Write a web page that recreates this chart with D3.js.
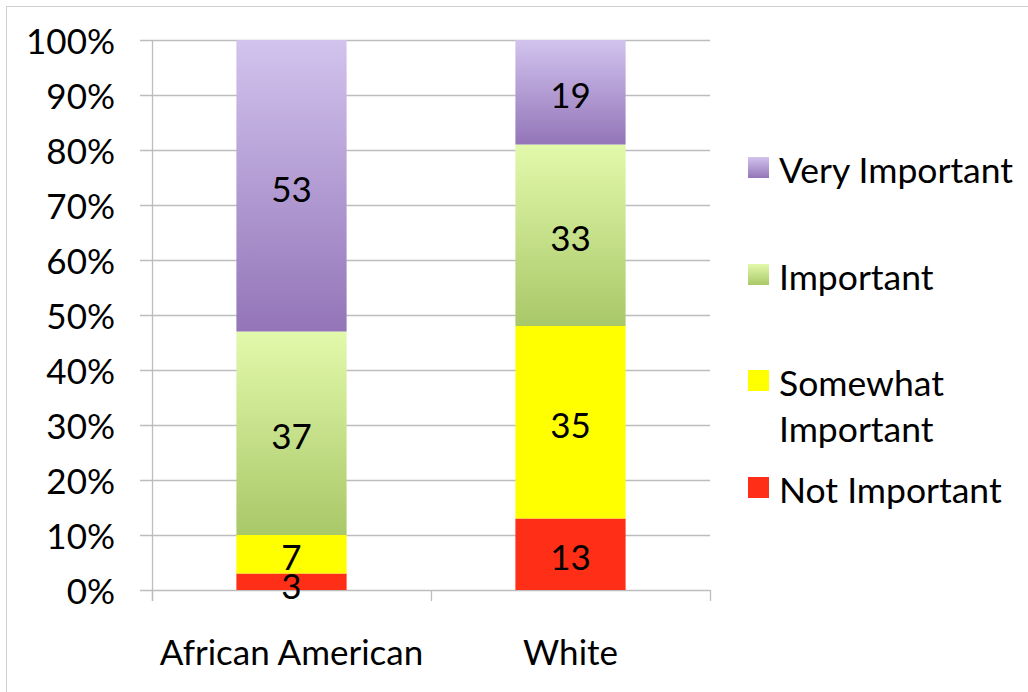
<!DOCTYPE html>
<html>

<head>
  <meta charset="utf-8">
  <script src="https://d3js.org/d3.v7.min.js"></script>
  <style>
    body { margin: 0; background: #fff; }
    text { font-family: Lato, "Open Sans", sans-serif; fill: #000; }
  </style>
</head>

<body>
  <script>
    // chart data
    const groups = ["African American", "White"];
    const levels = ["Not Important", "Somewhat Important", "Important", "Very Important"];
    const notImportant = [3, 13];
    const somewhatImportant = [7, 35];
    const important = [37, 33];
    const veryImportant = [53, 19];
    const yTicks = [0, 10, 20, 30, 40, 50, 60, 70, 80, 90, 100];

    const width = 1028, height = 692;
    const margin = { top: 40, bottom: 102, left: 152, right: 318 };
    const fontSize = 35;

    const svg = d3.select("body").append("svg")
      .attr("width", width)
      .attr("height", height);

    // outer frame
    svg.append("rect")
      .attr("x", 6.5).attr("y", 6.5)
      .attr("width", width + 20).attr("height", height + 20)
      .attr("fill", "none").attr("stroke", "#d0d0d0");

    // gradients per series
    const defs = svg.append("defs");
    const fills = [
      { id: "gNot", top: "#ff2e17", bottom: "#ff2e17" },
      { id: "gSome", top: "#ffff00", bottom: "#ffff00" },
      { id: "gImp", top: "#e2f9ab", bottom: "#a9c868" },
      { id: "gVery", top: "#d2c3ee", bottom: "#9375b8" }
    ];
    fills.forEach(f => {
      const g = defs.append("linearGradient").attr("id", f.id)
        .attr("x1", 0).attr("y1", 0).attr("x2", 0).attr("y2", 1);
      g.append("stop").attr("offset", "0%").attr("stop-color", f.top);
      g.append("stop").attr("offset", "100%").attr("stop-color", f.bottom);
    });

    const x = d3.scaleBand()
      .domain(groups)
      .range([margin.left, width - margin.right])
      .padding(0);

    const y = d3.scaleLinear()
      .domain([0, 100])
      .range([height - margin.bottom, margin.top]);

    // gridlines
    svg.append("g")
      .selectAll("line")
      .data(yTicks)
      .join("line")
      .attr("x1", margin.left - 12)
      .attr("x2", width - margin.right)
      .attr("y1", d => Math.round(y(d)) + 0.5)
      .attr("y2", d => Math.round(y(d)) + 0.5)
      .attr("stroke", "#bdbdbd")
      .attr("stroke-width", 1.3);

    // y axis line
    svg.append("line")
      .attr("x1", margin.left + 0.5).attr("x2", margin.left + 0.5)
      .attr("y1", margin.top).attr("y2", y(0) + 11)
      .attr("stroke", "#bdbdbd").attr("stroke-width", 1.3);

    // category ticks
    const catTicks = groups.map(g => x(g)).concat([x(groups[groups.length - 1]) + x.bandwidth()]);
    svg.append("g")
      .selectAll("line")
      .data(catTicks)
      .join("line")
      .attr("x1", d => d + 0.5).attr("x2", d => d + 0.5)
      .attr("y1", y(0)).attr("y2", y(0) + 11)
      .attr("stroke", "#bdbdbd").attr("stroke-width", 1.3);

    // y tick labels
    svg.append("g")
      .selectAll("text")
      .data(yTicks)
      .join("text")
      .attr("x", 115)
      .attr("y", d => y(d) + 14)
      .attr("text-anchor", "end")
      .style("font-size", fontSize + "px")
      .text(d => d + "%");

    // category labels
    svg.append("g")
      .selectAll("text")
      .data(groups)
      .join("text")
      .attr("x", d => x(d) + x.bandwidth() / 2)
      .attr("y", 665)
      .attr("text-anchor", "middle")
      .style("font-size", fontSize + "px")
      .text(d => d);

    // stacked bars
    const table = groups.map((g, i) => ({
      group: g,
      "Not Important": notImportant[i],
      "Somewhat Important": somewhatImportant[i],
      "Important": important[i],
      "Very Important": veryImportant[i]
    }));
    const series = d3.stack().keys(levels)(table);
    const barW = x.bandwidth() * 0.395;

    const layer = svg.append("g")
      .selectAll("g")
      .data(series)
      .join("g")
      .attr("fill", (d, i) => "url(#" + fills[i].id + ")");

    layer.selectAll("rect")
      .data(d => d)
      .join("rect")
      .attr("x", d => x(d.data.group) + x.bandwidth() / 2 - barW / 2)
      .attr("y", d => y(d[1]))
      .attr("width", barW)
      .attr("height", d => y(d[0]) - y(d[1]));

    layer.selectAll("text")
      .data(d => d.map(v => ({ v, key: d.key })))
      .join("text")
      .attr("x", d => x(d.v.data.group) + x.bandwidth() / 2)
      .attr("y", d => (y(d.v[0]) + y(d.v[1])) / 2 + 16 + (d.v[1] - d.v[0] < 5 ? 1 : 0))
      .attr("text-anchor", "middle")
      .style("font-size", fontSize + "px")
      .text(d => d.v.data[d.key]);

    // legend
    const legendItems = [
      { key: "Very Important", lines: ["Very Important"], y: 157 },
      { key: "Important", lines: ["Important"], y: 264 },
      { key: "Somewhat Important", lines: ["Somewhat", "Important"], y: 370 },
      { key: "Not Important", lines: ["Not Important"], y: 477 }
    ];
    const legend = svg.append("g")
      .selectAll("g")
      .data(legendItems)
      .join("g")
      .attr("transform", d => "translate(748," + d.y + ")");

    legend.append("rect")
      .attr("width", 21).attr("height", 21)
      .attr("fill", d => "url(#" + fills[levels.indexOf(d.key)].id + ")");

    legend.append("text")
      .attr("x", 31)
      .attr("y", 26)
      .style("font-size", "35.5px")
      .selectAll("tspan")
      .data(d => d.lines)
      .join("tspan")
      .attr("x", 31)
      .attr("dy", (d, i) => i === 0 ? 0 : 46)
      .text(d => d);
  </script>
</body>

</html>
